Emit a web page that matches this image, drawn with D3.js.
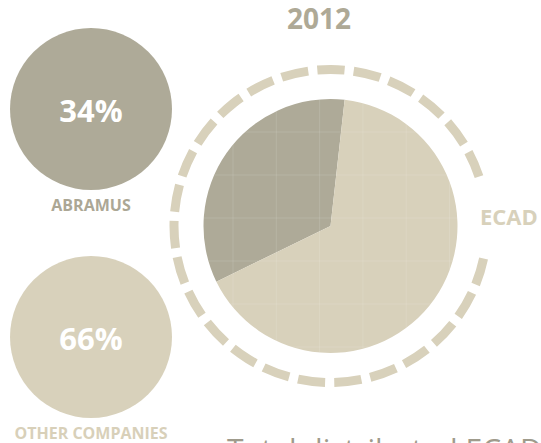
<!DOCTYPE html>
<html>
<head>
<meta charset="utf-8">
<script src="https://cdn.jsdelivr.net/npm/d3@7"></script>
<style>
  body { margin: 0; background: #fff; }
  text { font-family: "Open Sans", sans-serif; }
</style>
</head>
<body>
<div id="my_chart"></div>
<script>
// chart values
const year = "2012"
const companies = ["ABRAMUS", "OTHER COMPANIES"]
const shares = [34, 66]
const totalLabel = "ECAD"
const footer = "Total distributed ECAD"

const width = 541, height = 443

// colors for each company
const color = d3.scaleOrdinal()
  .domain(companies)
  .range(["#aeaa98", "#d8d1bb"])

const svg = d3.select("#my_chart")
.append("svg")
  .attr("width", width)
  .attr("height", height)

// title
svg.append("text")
  .attr("x", 319)
  .attr("y", 29)
  .attr("text-anchor", "middle")
  .style("font-size", "28px").style("font-weight", "bold")
  .style("fill", "#aea996")
  .text(year)

// left bubbles, one per company
const bubbleY = d3.scalePoint()
  .domain(companies)
  .range([109, 337])

const bubbles = svg.selectAll(".bubble")
  .data(companies)
  .enter()
  .append("g")
    .attr("class", "bubble")
    .attr("transform", d => `translate(91, ${bubbleY(d)})`)

bubbles.append("circle")
  .attr("r", 81)
  .style("fill", d => color(d))

bubbles.append("text")
  .attr("y", 13)
  .attr("text-anchor", "middle")
  .style("font-size", "31px").style("font-weight", "bold")
  .style("fill", "#fff")
  .text((d, i) => shares[i] + "%")

bubbles.append("text")
  .attr("y", 102)
  .attr("text-anchor", "middle")
  .style("font-size", "16px").style("font-weight", "bold")
  .style("fill", (d, i) => i === 0 ? "#aca795" : "#d8d0b9")
  .text(d => d)

// pie in the middle
const cx = 330.5, cy = 226
const pieR = 127
const pie = d3.pie()
  .sort(null)
  .startAngle(-116 * Math.PI / 180)
  .endAngle((360 - 116) * Math.PI / 180)

const arc = d3.arc().innerRadius(0).outerRadius(pieR)

const pieG = svg.append("g")
  .attr("transform", `translate(${cx},${cy})`)

pieG.selectAll("path")
  .data(pie(shares))
  .enter()
  .append("path")
    .attr("d", arc)
    .style("fill", (d, i) => color(companies[i]))

// faint grid texture over the pie
svg.append("clipPath").attr("id", "pieClip")
  .append("circle").attr("cx", cx).attr("cy", cy).attr("r", pieR)
const gridX = d3.range(233, 460, 43.3)
const gridY = d3.range(132, 360, 43)
const grid = svg.append("g").attr("clip-path", "url(#pieClip)")
  .style("stroke", "#ffffff").style("stroke-opacity", 0.12).style("stroke-width", 1)
grid.selectAll(".gx").data(gridX).enter().append("line")
  .attr("x1", d => d).attr("x2", d => d).attr("y1", cy - pieR).attr("y2", cy + pieR)
grid.selectAll(".gy").data(gridY).enter().append("line")
  .attr("y1", d => d).attr("y2", d => d).attr("x1", cx - pieR).attr("x2", cx + pieR)

// dashed ring, open on the right for the label
const ringR = 156.5
const gapStart = 71.6, gapEnd = 102
const ring = d3.path()
ring.arc(cx, cy, ringR, (gapEnd - 90) * Math.PI / 180, (gapStart + 360 - 90) * Math.PI / 180)
const ringLen = ringR * (360 - (gapEnd - gapStart)) * Math.PI / 180
const dashCount = 25
const period = ringLen / (dashCount - 0.25)
svg.append("path")
  .attr("d", ring.toString())
  .style("fill", "none")
  .style("stroke", "#d8d1bb")
  .style("stroke-width", 9)
  .style("stroke-dasharray", `${period * 0.75} ${period * 0.25}`)

svg.append("text")
  .attr("x", 480)
  .attr("y", 225)
  .style("font-size", "22px").style("font-weight", "bold")
  .style("fill", "#d8d1bb")
  .text(totalLabel)

svg.append("text")
  .attr("x", 227)
  .attr("y", 460)
  .style("font-size", "30px")
  .style("fill", "#9f9b8c")
  .text(footer)
</script>
</body>
</html>
